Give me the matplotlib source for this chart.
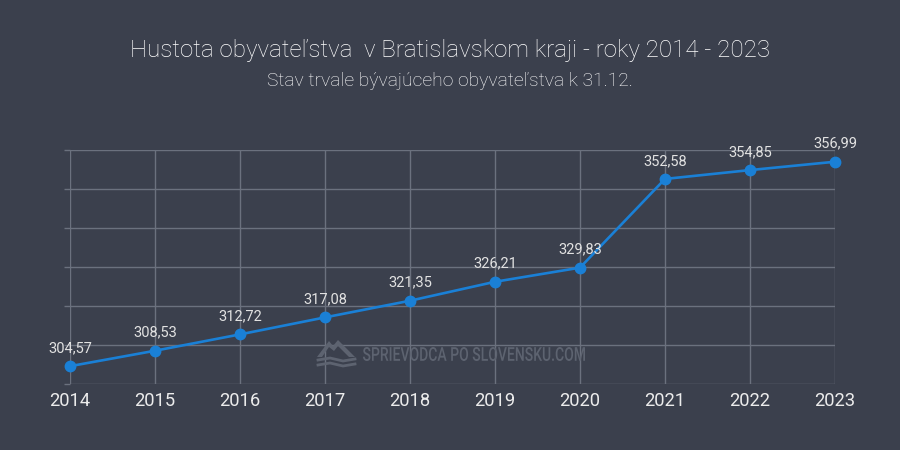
import matplotlib.pyplot as plt
import matplotlib.transforms as mtransforms
from matplotlib.textpath import TextPath
from matplotlib.patches import PathPatch, Polygon
from matplotlib.font_manager import FontProperties

roky = ["2014", "2015", "2016", "2017", "2018", "2019", "2020", "2021", "2022", "2023"]
hustota = [304.57, 308.53, 312.72, 317.08, 321.35, 326.21, 329.83, 352.58, 354.85, 356.99]

bg = '#3b404d'
grid = '#6b717e'
modra = '#1a80d6'
text = '#ffffff'
popisky = '#e2e2e2'
vodoznak = '#5d6370'

plt.rcParams['font.family'] = ['Roboto', 'DejaVu Sans']

fig = plt.figure(figsize=(9, 4.5), dpi=100, facecolor=bg)
ax = fig.add_axes([70 / 900, 1 - 384 / 450, 765 / 900, 234 / 450], facecolor=bg)

x = range(len(roky))
ax.plot(x, hustota, color=modra, linewidth=1.9, marker='o', markersize=7.5, zorder=3, clip_on=False)
for i, v in zip(x, hustota):
    ax.annotate(f"{v:.2f}".replace('.', ','), (i, v), xytext=(0, 8), textcoords='offset points',
                ha='center', va='bottom', fontsize=10.5, color=popisky)

ax.set_xlim(0, len(roky) - 1)
ax.set_ylim(300, 360)
ax.set_xticks(list(x))
ax.set_xticklabels(roky, fontsize=13.2, color='#ececec')
ax.set_yticks([300, 310, 320, 330, 340, 350, 360])
ax.set_yticklabels([])
ax.tick_params(axis='x', length=0, pad=6)
ax.tick_params(axis='y', length=4, color=grid, width=1)
ax.grid(True, color=grid, linewidth=1)
for s in ax.spines.values():
    s.set_visible(False)

fig.text(0.5, 1 - 50 / 450, "Hustota obyvateľstva  v Bratislavskom kraji - roky 2014 - 2023",
         ha='center', va='center', fontsize=17.4, color=text, fontweight='light')
fig.text(0.5, 1 - 81 / 450, "Stav trvale bývajúceho obyvateľstva k 31.12.",
         ha='center', va='center', fontsize=13.9, color=text, fontweight='light')

# vodoznak - zuzeny text
tp = TextPath((0, 0), "SPRIEVODCA PO SLOVENSKU.COM", size=20,
              prop=FontProperties(family='Roboto', weight='medium'))
bb = tp.get_extents()
tr = (mtransforms.Affine2D().translate(-bb.x0, -bb.y0)
      .scale(222 / bb.width / 900, 14 / bb.height / 450)
      .translate(363 / 900, (450 - 361) / 450) + fig.transFigure)
fig.patches.append(PathPatch(tp, transform=tr, facecolor=vodoznak, edgecolor='none'))

# logo - hory a vlny
hory = [(317, 357), (329, 341), (333, 346), (338, 340), (355, 357), (349, 357), (338, 346),
        (334, 351), (329, 347), (322, 357)]
fig.patches.append(Polygon([(px / 900, 1 - py / 450) for px, py in hory], closed=True,
                           transform=fig.transFigure, facecolor=vodoznak, edgecolor='none'))
for py in (360, 365):
    fig.lines.append(plt.Line2D([318 / 900, 330 / 900, 343 / 900, 355 / 900],
                                [1 - py / 450, 1 - (py - 2) / 450, 1 - (py + 1) / 450, 1 - (py - 1) / 450],
                                transform=fig.transFigure, color=vodoznak, linewidth=2))

fig.savefig('out.png', dpi=100, facecolor=bg)
